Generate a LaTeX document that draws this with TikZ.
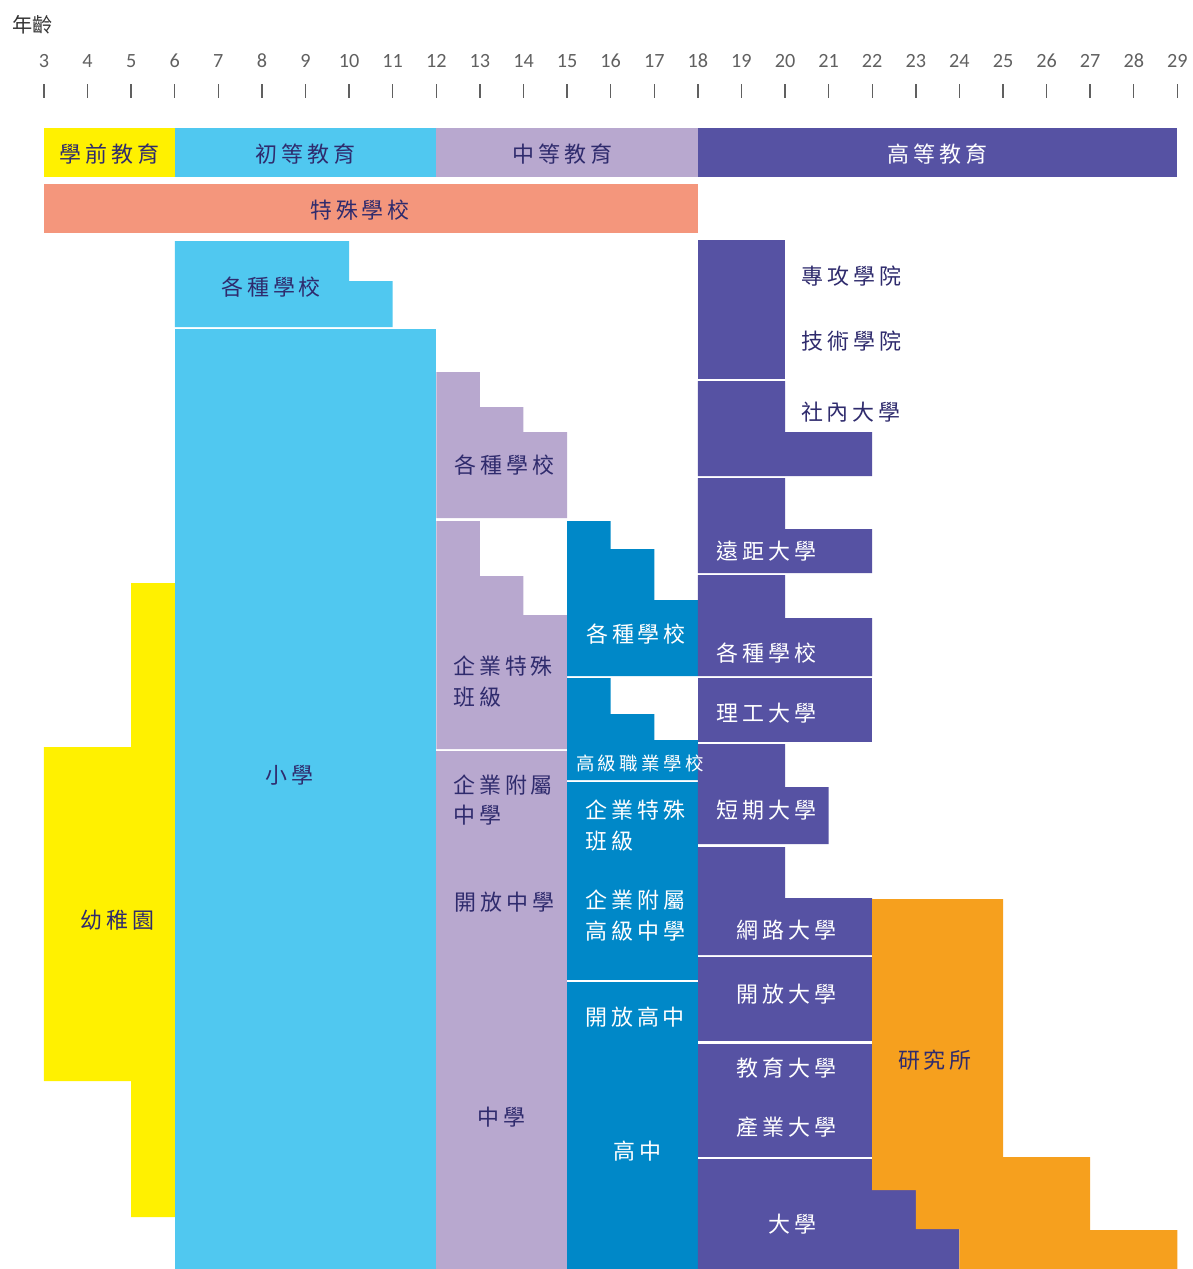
\documentclass[tikz,border=0pt]{standalone}
\usepackage{fontspec}
\usepackage{tikz}
\newfontfamily\cjk[LetterSpace=18]{Noto Sans CJK TC}
\newfontfamily\cjkplain{Noto Sans CJK TC}
\newfontfamily\numfont{Carlito}
\definecolor{preyellow}{HTML}{FFF100}
\definecolor{primblue}{HTML}{50C8F0}
\definecolor{seclilac}{HTML}{B8A8CF}
\definecolor{highblue}{HTML}{0088C8}
\definecolor{tertpurple}{HTML}{5652A3}
\definecolor{specsalmon}{HTML}{F4967C}
\definecolor{gradorange}{HTML}{F6A01E}
\definecolor{navytext}{HTML}{2F2B6D}
\definecolor{axisgray}{HTML}{606060}

\begin{document}
\begin{tikzpicture}[x=0.872cm,y=-0.02cm,
  lbl/.style={font=\cjk\fontsize{12.5}{17.6}\selectfont,text=navytext,inner sep=0pt},
  wlbl/.style={lbl,text=white},
  sidelbl/.style={anchor=west,align=left},
  tick/.style={axisgray,line width=0.8pt}]
\useasboundingbox (1.9908,0) rectangle (29.3532,1269);

\node[font=\cjkplain\fontsize{11.5}{13}\selectfont,text=black!80,inner sep=0pt] (agetitle) at (2.747,25) {年齡};
\foreach \a in {3,...,29}{
  \node[font=\numfont\fontsize{11.5}{13}\selectfont,text=axisgray,inner sep=0pt] (age\a) at (\a,61) {\a};
  \draw[tick] (\a,84) -- (\a,98);
}

\fill[preyellow] (3,128) rectangle (6,177);
\fill[primblue] (6,128) rectangle (12,177);
\fill[seclilac] (12,128) rectangle (18,177);
\fill[tertpurple] (18,128) rectangle (29,177);
\fill[specsalmon] (3,184) rectangle (18,233);

\fill[primblue] (6,241) -- (10,241) -- (10,281) -- (11,281) -- (11,327) -- (6,327) -- cycle;
\fill[primblue] (6,329) rectangle (12,1275);
\fill[preyellow] (5,583) -- (6,583) -- (6,1217) -- (5,1217) -- (5,1081) -- (3,1081) -- (3,747) -- (5,747) -- cycle;

\fill[seclilac] (12,372) -- (13,372) -- (13,407) -- (14,407) -- (14,432) -- (15,432) -- (15,518) -- (12,518) -- cycle;
\fill[seclilac] (12,521) -- (13,521) -- (13,576) -- (14,576) -- (14,615) -- (15,615) -- (15,749) -- (12,749) -- cycle;
\fill[seclilac] (12,751) rectangle (15,1275);

\fill[highblue] (15,521) -- (16,521) -- (16,549) -- (17,549) -- (17,600) -- (18,600) -- (18,676) -- (15,676) -- cycle;
\fill[highblue] (15,678) -- (16,678) -- (16,714) -- (17,714) -- (17,740) -- (18,740) -- (18,780) -- (15,780) -- cycle;
\fill[highblue] (15,782) rectangle (18,980);
\fill[highblue] (15,982) rectangle (18,1275);

\fill[tertpurple] (18,240) rectangle (20,379);
\fill[tertpurple] (18,381) -- (20,381) -- (20,432) -- (22,432) -- (22,476) -- (18,476) -- cycle;
\fill[tertpurple] (18,478) -- (20,478) -- (20,529) -- (22,529) -- (22,573) -- (18,573) -- cycle;
\fill[tertpurple] (18,575) -- (20,575) -- (20,618) -- (22,618) -- (22,676) -- (18,676) -- cycle;
\fill[tertpurple] (18,678) rectangle (22,742);
\fill[tertpurple] (18,744) -- (20,744) -- (20,787) -- (21,787) -- (21,844) -- (18,844) -- cycle;
\fill[tertpurple] (18,847) -- (20,847) -- (20,898) -- (22,898) -- (22,955) -- (18,955) -- cycle;
\fill[tertpurple] (18,957) rectangle (22,1041);
\fill[tertpurple] (18,1044) rectangle (22,1157);
\fill[tertpurple] (18,1159) -- (22,1159) -- (22,1190) -- (23,1190) -- (23,1229) -- (24,1229) -- (24,1275) -- (18,1275) -- cycle;
\fill[gradorange] (22,899) -- (25,899) -- (25,1157) -- (27,1157) -- (27,1230) -- (29,1230) -- (29,1275) -- (24,1275) -- (24,1229) -- (23,1229) -- (23,1190) -- (22,1190) -- cycle;

\node[lbl] (preschool) at (4.5,154) {學前教育};
\node[lbl] (primary) at (9,154) {初等教育};
\node[lbl] (secondary) at (14.9,154) {中等教育};
\node[wlbl] (tertiary) at (23.5,154) {高等教育};
\node[lbl] (special) at (10.25,210) {特殊學校};

\node[lbl] (primmisc) at (8.21,287) {各種學校};
\node[lbl] (elem) at (8.64,775) {小學};
\node[lbl] (kinder) at (4.68,920) {幼稚園};

\node[lbl] (lowmisc) at (13.57,465) {各種學校};
\node[lbl,sidelbl] (lowclass) at (12.38,681.5) {企業特殊\\班級};
\node[lbl,sidelbl] (lowcorp) at (12.38,800) {企業附屬\\中學};
\node[lbl] (lowopen) at (13.57,902) {開放中學};
\node[lbl] (juniorhigh) at (13.5,1117) {中學};

\node[wlbl] (highmisc) at (16.58,634) {各種學校};
\node[wlbl,font=\cjk\fontsize{10.5}{12}\selectfont] (vocational) at (16.67,763) {高級職業學校};
\node[wlbl,sidelbl] (highclass) at (15.41,825.5) {企業特殊\\班級};
\node[wlbl,sidelbl] (highcorp) at (15.41,915.5) {企業附屬\\高級中學};
\node[wlbl] (highopen) at (16.56,1017) {開放高中};
\node[wlbl] (seniorhigh) at (16.62,1151) {高中};

\node[lbl] (specialist) at (21.53,276) {專攻學院};
\node[lbl] (technical) at (21.53,341) {技術學院};
\node[lbl] (inhouse) at (21.51,412) {社內大學};
\node[wlbl] (distance) at (19.58,551) {遠距大學};
\node[wlbl] (unimisc) at (19.58,653) {各種學校};
\node[wlbl] (polytech) at (19.58,713) {理工大學};
\node[wlbl] (junior) at (19.58,810) {短期大學};
\node[wlbl] (online) at (20.04,930) {網路大學};
\node[wlbl] (openuni) at (20.04,994) {開放大學};
\node[wlbl] (education) at (20.04,1068) {教育大學};
\node[wlbl] (industry) at (20.04,1127) {產業大學};
\node[wlbl] (university) at (20.18,1224) {大學};
\node[lbl] (graduate) at (23.44,1060) {研究所};
\end{tikzpicture}
\end{document}
